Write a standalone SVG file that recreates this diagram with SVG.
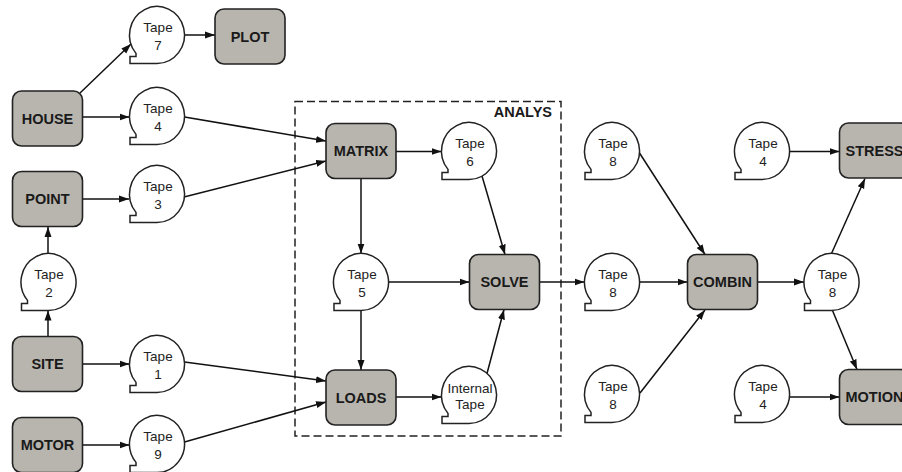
<svg xmlns="http://www.w3.org/2000/svg" width="902" height="472" viewBox="0 0 902 472">
<style>
.box{fill:#b8b5ae;stroke:#222;stroke-width:1.6}
.tape{fill:#fff;stroke:#222;stroke-width:1.5}
.bl{font-family:"Liberation Sans",Arial,sans-serif;font-weight:bold;font-size:14.5px;fill:#1a1a1a;text-anchor:middle}
.tl{font-family:"Liberation Sans",Arial,sans-serif;font-size:13.5px;fill:#222;text-anchor:middle}
.conn line{stroke:#111;stroke-width:1.5;marker-end:url(#arr)}
</style>
<defs>
<marker id="arr" markerWidth="11" markerHeight="8" refX="10" refY="4" orient="auto" markerUnits="userSpaceOnUse"><path d="M0,0.5 L10,4 L0,7.5 Z" fill="#111"/></marker>
<path id="tp" d="M0,28.5 A27.5 28.5 0 1 0 -21,18.4 L-21,21.5 L-27,21.5 L-27,28.5 Z"/>
</defs>
<rect width="902" height="472" fill="#fff"/>
<g id="analys">
<rect x="295" y="101.5" width="266" height="334.5" fill="none" stroke="#222" stroke-width="1.5" stroke-dasharray="8 4"/>
<text class="bl" x="552" y="117" style="text-anchor:end">ANALYS</text>
</g>
<g class="conn">
<line x1="80" y1="93" x2="131" y2="44"/>
<line x1="82.5" y1="117" x2="129.5" y2="117"/>
<line x1="184.5" y1="35" x2="215" y2="35"/>
<line x1="184.5" y1="117" x2="326" y2="141"/>
<line x1="82.5" y1="199" x2="129" y2="199"/>
<line x1="184" y1="197" x2="326" y2="161"/>
<line x1="48" y1="253.5" x2="48" y2="227"/>
<line x1="48" y1="336.5" x2="48" y2="310.5"/>
<line x1="82.5" y1="364" x2="129.5" y2="364"/>
<line x1="82.5" y1="445" x2="129.5" y2="445"/>
<line x1="184.5" y1="362" x2="326" y2="381"/>
<line x1="184.5" y1="442" x2="326" y2="402"/>
<line x1="396" y1="151.5" x2="441.5" y2="151.5"/>
<line x1="361" y1="178.5" x2="361" y2="253.5"/>
<line x1="482" y1="176" x2="505" y2="254.5"/>
<line x1="388.5" y1="282" x2="469.5" y2="282"/>
<line x1="361" y1="310.5" x2="361" y2="370"/>
<line x1="396" y1="397" x2="441.5" y2="397"/>
<line x1="487" y1="373.5" x2="504" y2="309.5"/>
<line x1="539.5" y1="282" x2="584.5" y2="282"/>
<line x1="639.5" y1="153" x2="705" y2="254.5"/>
<line x1="639.5" y1="282" x2="687.5" y2="282"/>
<line x1="640" y1="393" x2="705" y2="310"/>
<line x1="757.5" y1="282" x2="804" y2="282"/>
<line x1="831.5" y1="253.5" x2="865" y2="178.5"/>
<line x1="832.5" y1="310.5" x2="857" y2="369.5"/>
<line x1="789.5" y1="151.5" x2="839.5" y2="151.5"/>
<line x1="789.5" y1="397" x2="839.5" y2="397"/>
</g>
<g id="house"><rect class="box" x="12.5" y="91" width="70" height="55" rx="9"/><text class="bl" x="47.5" y="123.5">HOUSE</text></g>
<g id="plot"><rect class="box" x="215" y="9" width="70" height="55" rx="9"/><text class="bl" x="250" y="41.5">PLOT</text></g>
<g id="point"><rect class="box" x="12.5" y="171.5" width="70" height="55" rx="9"/><text class="bl" x="47.5" y="204">POINT</text></g>
<g id="site"><rect class="box" x="12.5" y="336.5" width="70" height="55" rx="9"/><text class="bl" x="47.5" y="369">SITE</text></g>
<g id="motor"><rect class="box" x="12.5" y="417.5" width="70" height="55" rx="9"/><text class="bl" x="47.5" y="450">MOTOR</text></g>
<g id="matrix"><rect class="box" x="326" y="123.5" width="70" height="55" rx="9"/><text class="bl" x="361" y="156">MATRIX</text></g>
<g id="solve"><rect class="box" x="469.5" y="254.5" width="70" height="55" rx="9"/><text class="bl" x="504.5" y="287">SOLVE</text></g>
<g id="loads"><rect class="box" x="326" y="370" width="70" height="55" rx="9"/><text class="bl" x="361" y="402.5">LOADS</text></g>
<g id="combin"><rect class="box" x="687.5" y="254.5" width="70" height="55" rx="9"/><text class="bl" x="722.5" y="287">COMBIN</text></g>
<g id="stress"><rect class="box" x="839.5" y="123" width="70" height="55" rx="9"/><text class="bl" x="874.5" y="155.5">STRESS</text></g>
<g id="motion"><rect class="box" x="839.5" y="369.5" width="70" height="55" rx="9"/><text class="bl" x="874.5" y="402">MOTION</text></g>
<g id="tape7" transform="translate(157,35)"><use href="#tp" class="tape"/><text class="tl" x="1" y="-3.5">Tape</text><text class="tl" x="1" y="14.5">7</text></g>
<g id="tape4a" transform="translate(157,116)"><use href="#tp" class="tape"/><text class="tl" x="1" y="-3.5">Tape</text><text class="tl" x="1" y="14.5">4</text></g>
<g id="tape3" transform="translate(157,194)"><use href="#tp" class="tape"/><text class="tl" x="1" y="-3.5">Tape</text><text class="tl" x="1" y="14.5">3</text></g>
<g id="tape2" transform="translate(48.5,282)"><use href="#tp" class="tape"/><text class="tl" x="0.5" y="-3.5">Tape</text><text class="tl" x="0.5" y="14.5">2</text></g>
<g id="tape1" transform="translate(157,364)"><use href="#tp" class="tape"/><text class="tl" x="1" y="-3.5">Tape</text><text class="tl" x="1" y="14.5">1</text></g>
<g id="tape9" transform="translate(157,444)"><use href="#tp" class="tape"/><text class="tl" x="1" y="-3.5">Tape</text><text class="tl" x="1" y="14.5">9</text></g>
<g id="tape6" transform="translate(469,151)"><use href="#tp" class="tape"/><text class="tl" x="1" y="-3.5">Tape</text><text class="tl" x="1" y="14.5">6</text></g>
<g id="tape5" transform="translate(361,282)"><use href="#tp" class="tape"/><text class="tl" x="1" y="-3.5">Tape</text><text class="tl" x="1" y="14.5">5</text></g>
<g id="internal" transform="translate(469,395)"><use href="#tp" class="tape"/><text class="tl" x="1" y="-2">Internal</text><text class="tl" x="1" y="13.5">Tape</text></g>
<g id="tape8a" transform="translate(612,151)"><use href="#tp" class="tape"/><text class="tl" x="1" y="-3.5">Tape</text><text class="tl" x="1" y="14.5">8</text></g>
<g id="tape8b" transform="translate(612,282)"><use href="#tp" class="tape"/><text class="tl" x="1" y="-3.5">Tape</text><text class="tl" x="1" y="14.5">8</text></g>
<g id="tape8c" transform="translate(612,394)"><use href="#tp" class="tape"/><text class="tl" x="1" y="-3.5">Tape</text><text class="tl" x="1" y="14.5">8</text></g>
<g id="tape8d" transform="translate(831.5,282)"><use href="#tp" class="tape"/><text class="tl" x="1" y="-3.5">Tape</text><text class="tl" x="1" y="14.5">8</text></g>
<g id="tape4b" transform="translate(762,151)"><use href="#tp" class="tape"/><text class="tl" x="1" y="-3.5">Tape</text><text class="tl" x="1" y="14.5">4</text></g>
<g id="tape4c" transform="translate(762,394)"><use href="#tp" class="tape"/><text class="tl" x="1" y="-3.5">Tape</text><text class="tl" x="1" y="14.5">4</text></g>
</svg>
